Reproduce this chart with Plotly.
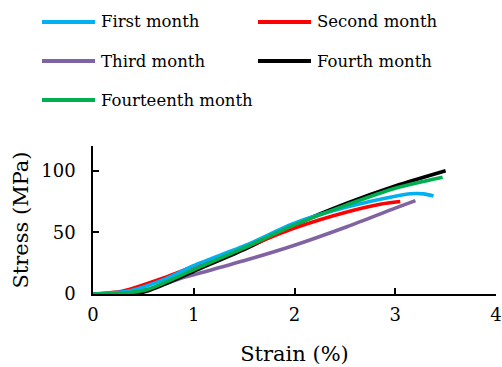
import plotly.graph_objects as go

# Stress-strain curves measured at different ageing times
names = ["First month", "Second month", "Third month", "Fourth month", "Fourteenth month"]
colors = ["#00B0F0", "#FF0000", "#8064A2", "#000000", "#00B050"]

strain_first = [0, 0.15, 0.37, 0.70, 1.00, 1.53, 2.00, 2.52, 3.00, 3.15, 3.28, 3.38]
stress_first = [0, 0.8, 2.6, 11.6, 23.0, 40.0, 57.5, 70.5, 79.3, 81.3, 81.2, 79.5]

strain_second = [0, 0.15, 0.30, 0.70, 1.00, 1.53, 2.00, 2.52, 2.85, 3.05]
stress_second = [0, 0.8, 2.4, 13.0, 22.4, 38.5, 53.5, 66.5, 72.8, 75.0]

strain_third = [0, 0.20, 0.53, 0.83, 1.00, 1.53, 2.00, 2.52, 3.00, 3.20]
stress_third = [0, 0.8, 3.4, 11.6, 15.6, 27.7, 39.5, 54.5, 69.6, 75.7]

strain_fourth = [0, 0.30, 0.43, 0.53, 0.70, 1.00, 1.53, 2.00, 2.52, 3.00, 3.50]
stress_fourth = [0, 0.1, 0.4, 2.2, 7.6, 18.4, 37.2, 56.0, 73.6, 87.6, 100.0]

strain_fourteenth = [0, 0.20, 0.37, 0.53, 0.70, 1.00, 1.53, 2.00, 2.52, 3.00, 3.47]
stress_fourteenth = [0, 0.4, 1.2, 3.4, 8.9, 19.7, 38.5, 56.0, 72.3, 85.8, 94.7]

series = {
    "First month": (strain_first, stress_first),
    "Second month": (strain_second, stress_second),
    "Third month": (strain_third, stress_third),
    "Fourth month": (strain_fourth, stress_fourth),
    "Fourteenth month": (strain_fourteenth, stress_fourteenth),
}
color_of = dict(zip(names, colors))
draw_order = ["Third month", "Fourth month", "Second month", "First month", "Fourteenth month"]

x_ticks = [0, 1, 2, 3, 4]
y_ticks = [0, 50, 100]

FONT = "DejaVu Serif"
W, H = 502, 367
L, R, T, B = 93, 6, 146, 73

fig = go.Figure()
for name in draw_order:
    xs, ys = series[name]
    fig.add_trace(go.Scatter(
        x=xs, y=ys, mode="lines", name=name, showlegend=False,
        line=dict(color=color_of[name], width=3.6, shape="spline", smoothing=0.8),
        cliponaxis=False,
    ))

# Legend drawn as line samples with labels, two columns
legend_cols = [(42, 95, 99), (258, 311, 315)]
legend_rows = [22, 61, 100]
for i, name in enumerate(names):
    x0, x1, xt = legend_cols[i % 2]
    yc = legend_rows[i // 2]
    fig.add_shape(type="line", xref="paper", yref="paper",
                  x0=(x0 - L) / (W - L - R), x1=(x1 - L) / (W - L - R),
                  y0=(H - B - yc) / (H - T - B), y1=(H - B - yc) / (H - T - B),
                  line=dict(color=color_of[name], width=4))
    fig.add_annotation(xref="paper", yref="paper",
                       x=(xt - L) / (W - L - R), y=(H - B - yc) / (H - T - B),
                       xanchor="left", yanchor="middle", showarrow=False,
                       text=name, font=dict(family=FONT, size=16.5, color="#000000"))

axis_common = dict(
    showgrid=False, zeroline=False, showline=True, linecolor="#000000", linewidth=1.5,
    ticks="inside", ticklen=6, tickwidth=1.5, tickcolor="#000000",
    tickfont=dict(family=FONT, size=18, color="#000000"),
)
fig.update_xaxes(range=[0, 4], tickvals=x_ticks,
                 title=dict(text="Strain (%)", font=dict(family=FONT, size=21, color="#000000"), standoff=22),
                 ticklabelstandoff=4, **axis_common)
fig.update_yaxes(range=[0, 120], tickvals=y_ticks,
                 title=dict(text="Stress (MPa)", font=dict(family=FONT, size=21, color="#000000"), standoff=7),
                 ticklabelstandoff=12, **axis_common)

fig.update_layout(
    width=W, height=H,
    margin=dict(l=L, r=R, t=T, b=B, autoexpand=False),
    paper_bgcolor="#FFFFFF", plot_bgcolor="#FFFFFF",
    font=dict(family=FONT),
    showlegend=False,
)
fig.write_html("out.html")
